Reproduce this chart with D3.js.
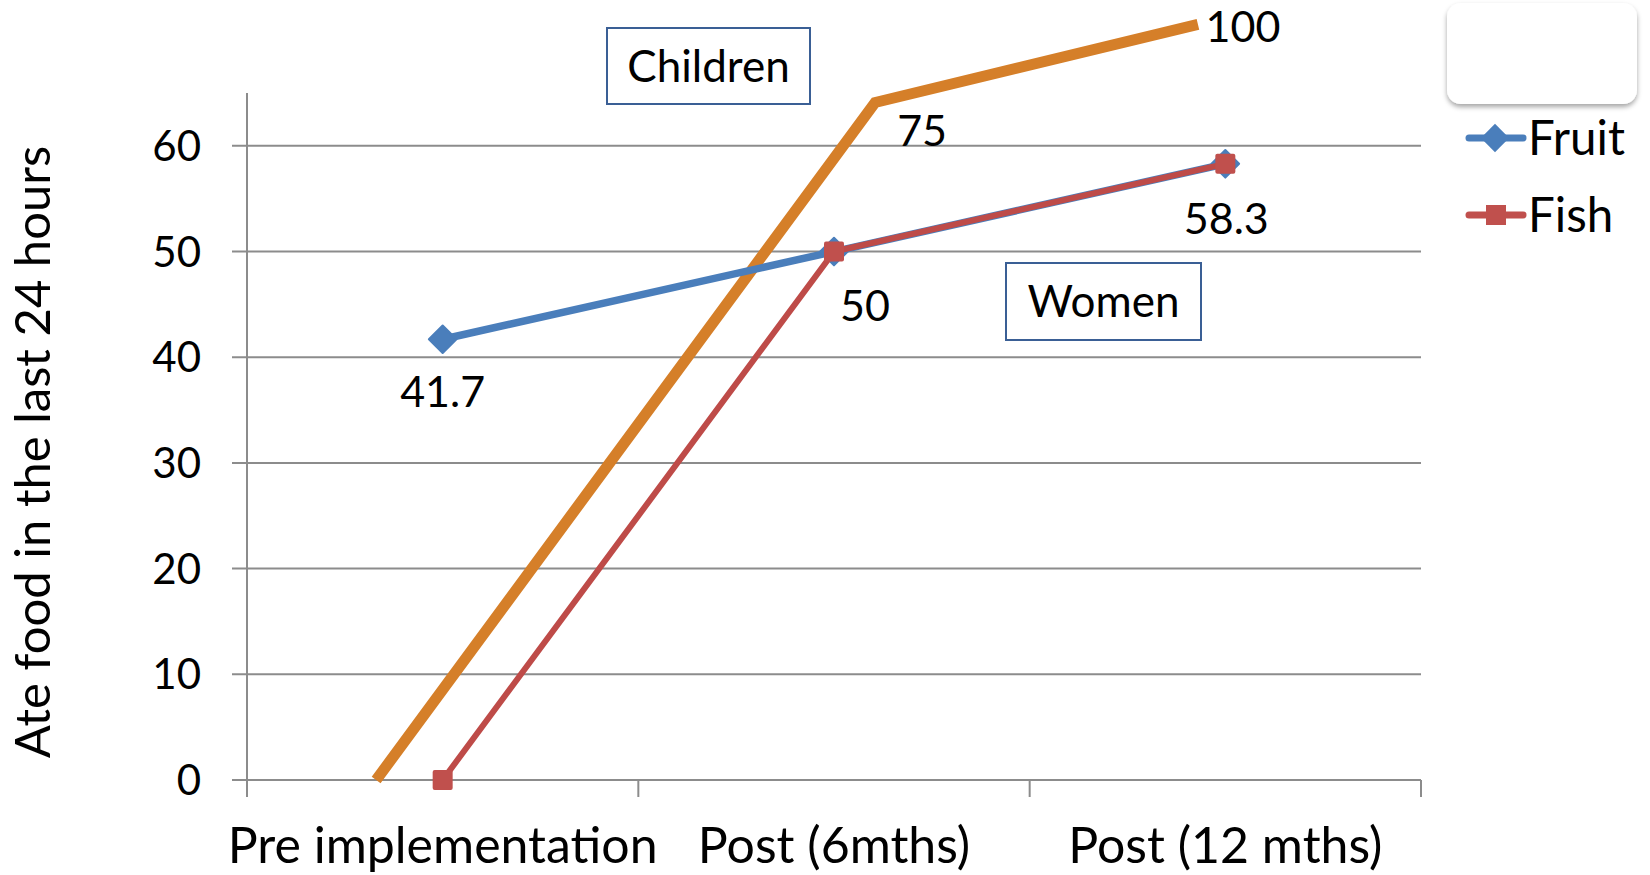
<!DOCTYPE html>
<html><head><meta charset="utf-8">
<script src="https://cdn.jsdelivr.net/npm/d3@7"></script>
<style>body{margin:0;background:#fff}svg{display:block}text{font-family:Lato,"Open Sans",sans-serif;fill:#000}</style>
</head><body><svg id="c" width="1650" height="875"></svg>
<script>
const categories = ["Pre implementation", "Post (6mths)", "Post (12 mths)"];
const fruit = [41.7, 50, 58.3];
const fish = [0, 50, 58.3];
const children = [0, 75, 100];
const yTicks = [0, 10, 20, 30, 40, 50, 60];
const seriesNames = ["Fruit", "Fish"];
const yTitle = "Ate food in the last 24 hours";
const boxLabels = ["Children", "Women"];

const svg = d3.select("#c");
const x = d3.scaleBand().domain(categories).range([247, 1421]);
const y = d3.scaleLinear().domain([0, 65]).range([780, 93]);
// children overlay drawn on its own (non-aligned) scales
const cx = d3.scaleLinear().domain([0, 1, 2]).range([0.33, 1.605, 2.43]);
const cy = d3.scaleLinear().domain([0, 75, 100]).range([0, 64.1, 71.5]);
const cX = i => x.range()[0] + cx(i) * x.bandwidth();
const cY = v => y(cy(v));
const px = c => x(c) + x.bandwidth() / 2;

const grid = "#8c8c8c";
// gridlines
svg.append("g").selectAll("line").data(yTicks).join("line")
  .attr("x1", 232).attr("x2", 1421).attr("y1", d => y(d)).attr("y2", d => y(d))
  .attr("stroke", grid).attr("stroke-width", 2);
// y axis line
svg.append("line").attr("x1", 247).attr("x2", 247).attr("y1", y.range()[1]).attr("y2", 797)
  .attr("stroke", grid).attr("stroke-width", 2);
// x category ticks
const xt = categories.map(c => x(c)).concat([x.range()[1]]);
svg.append("g").selectAll("line").data(xt.slice(1)).join("line")
  .attr("x1", d => d).attr("x2", d => d).attr("y1", y(0)).attr("y2", 797)
  .attr("stroke", grid).attr("stroke-width", 2);
// y tick labels
svg.append("g").selectAll("text").data(yTicks).join("text")
  .attr("x", 201).attr("y", d => y(d)).attr("dy", "0.36em").attr("text-anchor", "end")
  .style("font-size", "42px").text(d => d);
// category labels
svg.append("g").selectAll("text").data(categories).join("text")
  .attr("x", d => px(d)).attr("y", 863).attr("text-anchor", "middle")
  .style("font-size", "50px").text(d => d);
// y title
svg.append("text").attr("transform", "translate(50,452) rotate(-90)").attr("text-anchor", "middle")
  .style("font-size", "49px").text(yTitle);

// children line
const cData = children.map((v, i) => [cX(i), cY(v)]);
svg.append("path").attr("d", d3.line()(cData)).attr("fill", "none")
  .attr("stroke", "#D57F29").attr("stroke-width", 11);

const line = d3.line().x(d => px(d.c)).y(d => y(d.v));
const fruitData = fruit.map((v, i) => ({c: categories[i], v}));
const fishData = fish.map((v, i) => ({c: categories[i], v}));
svg.append("path").attr("d", line(fruitData)).attr("fill", "none").attr("stroke", "#4A7EBB").attr("stroke-width", 7.5).attr("stroke-linejoin", "round");
svg.append("g").selectAll("path").data(fruitData).join("path")
  .attr("d", d3.symbol(d3.symbolSquare, 380)())
  .attr("transform", d => `translate(${px(d.c)},${y(d.v)}) rotate(45)`)
  .attr("fill", "#4A7EBB").attr("stroke", "#4A7EBB").attr("stroke-width", 2).attr("stroke-linejoin", "round");
svg.append("path").attr("d", line(fishData)).attr("fill", "none").attr("stroke", "#BE4B48").attr("stroke-width", 6);
svg.append("g").selectAll("rect").data(fishData).join("rect")
  .attr("x", d => px(d.c) - 10).attr("y", d => y(d.v) - 10).attr("width", 20).attr("height", 20)
  .attr("rx", 2).attr("fill", "#C0504D");

// data labels
const lbl = [
  {t: fruit[0], x: px(categories[0]), y: y(fruit[0]) + 68},
  {t: fruit[1], x: px(categories[1]) + 31, y: y(fruit[1]) + 69},
  {t: fruit[2], x: px(categories[2]) + 1, y: y(fruit[2]) + 70},
  {t: children[1], x: cX(1) + 47, y: cY(children[1]) + 43},
  {t: children[2], x: cX(2) + 45, y: cY(children[2]) + 18}
];
svg.append("g").selectAll("text").data(lbl).join("text")
  .attr("x", d => d.x).attr("y", d => d.y).attr("text-anchor", "middle")
  .style("font-size", "43px").text(d => d.t);

// annotation boxes
const boxes = [
  {t: boxLabels[0], x0: 607, y0: 28, w: 203, h: 76},
  {t: boxLabels[1], x0: 1006, y0: 263, w: 195, h: 77}
];
const bg = svg.append("g").selectAll("g").data(boxes).join("g");
bg.append("rect").attr("x", d => d.x0).attr("y", d => d.y0).attr("width", d => d.w).attr("height", d => d.h)
  .attr("fill", "#fff").attr("stroke", "#3A5F95").attr("stroke-width", 2);
bg.append("text").attr("x", d => d.x0 + d.w / 2).attr("y", d => d.y0 + d.h / 2).attr("dy", "0.36em")
  .attr("text-anchor", "middle").style("font-size", "44px").text(d => d.t);

// legend
const defs = svg.append("defs");
const f = defs.append("filter").attr("id", "sh").attr("x", "-20%").attr("y", "-20%").attr("width", "140%").attr("height", "150%");
f.append("feDropShadow").attr("dx", 0).attr("dy", 3).attr("stdDeviation", 2.5).attr("flood-color", "#000").attr("flood-opacity", 0.35);
svg.append("rect").attr("x", 1447).attr("y", 3).attr("width", 190).attr("height", 101).attr("rx", 14)
  .attr("fill", "#fff").attr("filter", "url(#sh)");
const leg = svg.append("g").selectAll("g").data(seriesNames).join("g")
  .attr("transform", (d, i) => `translate(0,${138 + i * 77})`);
leg.append("line").attr("x1", 1469).attr("x2", 1523).attr("stroke", (d, i) => i ? "#C0504D" : "#4A7EBB")
  .attr("stroke-width", 7).attr("stroke-linecap", "round");
leg.filter((d, i) => i === 0).append("path").attr("d", d3.symbol(d3.symbolSquare, 400)())
  .attr("transform", "translate(1495,0) rotate(45)").attr("fill", "#4A7EBB");
leg.filter((d, i) => i === 1).append("rect").attr("x", 1486).attr("y", -10).attr("width", 20).attr("height", 20).attr("fill", "#C0504D");
leg.append("text").attr("x", 1528).attr("dy", "0.36em").style("font-size", "47.5px").text(d => d);
</script></body></html>
